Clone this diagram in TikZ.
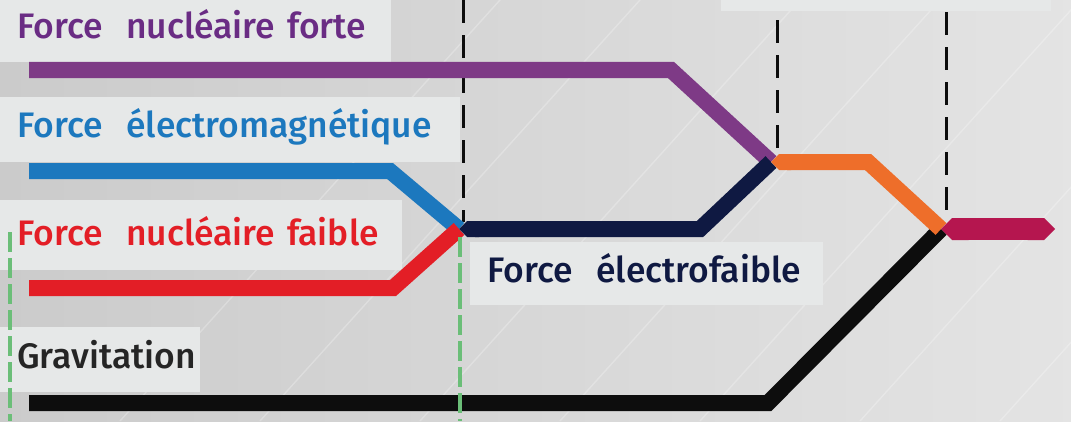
\documentclass[tikz,border=0pt]{standalone}
\usepackage{fontspec}
\setmainfont{Fira Sans}[UprightFont=* Medium]
\usepackage{tikz}
\usetikzlibrary{arrows.meta}
\definecolor{fonds}{HTML}{D8D8D8}
\definecolor{boite}{HTML}{E6E8E8}
\definecolor{violet}{HTML}{7E3A86}
\definecolor{violettxt}{HTML}{6A2C84}
\definecolor{bleu}{HTML}{1C78BE}
\definecolor{rouge}{HTML}{E31E26}
\definecolor{marine}{HTML}{0F1942}
\definecolor{orange}{HTML}{EE6E2A}
\definecolor{magenta}{HTML}{B5164F}
\definecolor{noir}{HTML}{0D0D0D}
\definecolor{vert}{HTML}{6BBE78}

\begin{document}
\begin{tikzpicture}[x=0.025cm,y=-0.025cm]
\tikzstyle{every node}+=[inner ysep=0pt]
\tikzstyle{etiquette}=[anchor=north west,fill=boite,inner xsep=0.425cm,align=left,font=\fontsize{25.2}{29}\selectfont]
\tikzstyle{force}=[line width=0.4cm]
\tikzstyle{limite}=[noir,line width=0.075cm,dash pattern=on 0.575cm off 0.3cm]
\tikzstyle{epoque}=[vert,line width=0.12cm,dash pattern=on 0.5cm off 0.15cm]
\useasboundingbox (0,0) rectangle (1071,421);
\shade[left color=fonds!94!black,right color=fonds!70!white] (0,0) rectangle (1071,421);
\foreach \a in {120,260,420,560,700,860,1000}
  \draw [white,opacity=0.25,line width=1pt] (\a,421) -- (\a+380,0);
\fill [boite] (721,0) rectangle (1051,11);
\node [etiquette,text width=8.925cm,text height=0.95cm,text depth=0.6cm,text=violettxt] (lforte) at (0,0) {Force~~nucléaire forte};
\node [etiquette,text width=10.65cm,text height=1.0cm,text depth=0.625cm,text=bleu] (lem) at (0,97) {Force~~électromagnétique};
\node [etiquette,text width=9.2cm,text height=1.125cm,text depth=0.625cm,text=rouge] (lfaible) at (0,200) {Force~~nucléaire faible};
\node [etiquette,text width=4.15cm,text height=1.025cm,text depth=0.6cm,text=noir!90] (lgrav) at (0,327) {Gravitation};
\node [etiquette,text width=7.975cm,text height=1.0cm,text depth=0.575cm,text=marine] (lef) at (470,242) {Force~~électrofaible};
\coordinate (jA) at (459,229);
\coordinate (jB) at (771,162);
\coordinate (jC) at (941,229);
\coordinate (forte0) at (29,70);
\coordinate (forte1) at (671,70);
\coordinate (em0) at (29,171);
\coordinate (em1) at (390,171);
\coordinate (faible0) at (29,288);
\coordinate (faible1) at (393,288);
\coordinate (grav0) at (29,403);
\coordinate (grav1) at (768,403);
\coordinate (ef1) at (700,229);
\coordinate (ew1) at (868,162);
\coordinate (fin) at (1055,229);
\coordinate (dA0) at (463,0);
\coordinate (dA1) at (463,222);
\coordinate (dB0) at (777,20);
\coordinate (dB1) at (777,153);
\coordinate (dC0) at (946,12);
\coordinate (dC1) at (946,218);
\coordinate (g0) at (10,232);
\coordinate (g1) at (10,421);
\coordinate (g2) at (460,237);
\coordinate (g3) at (460,421);
\draw [epoque] (g0) -- (g1);
\draw [limite] (dA0) -- (dA1);
\draw [limite] (dB0) -- (dB1);
\draw [limite] (dC0) -- (dC1);
\draw [force,violet] (forte0) -- (forte1) -- (jB);
\draw [force,bleu] (em0) -- (em1) -- (jA);
\draw [force,rouge] (faible0) -- (faible1) -- (jA);
\draw [force,noir] (grav0) -- (grav1) -- (jC);
\draw [force,marine,{Triangle Cap[]}-] (jA) -- (ef1) -- (jB);
\draw [force,orange,{Triangle Cap[]}-] (jB) -- (ew1) -- (jC);
\draw [force,magenta,line width=0.55cm,{Triangle Cap[]}-{Triangle Cap[]}] (jC) -- (fin);
\draw [epoque] (g2) -- (g3);
\end{tikzpicture}
\end{document}
